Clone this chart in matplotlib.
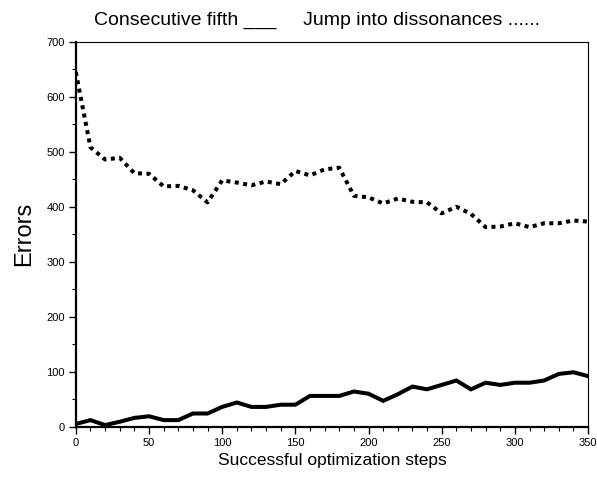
import matplotlib
matplotlib.use("Agg")
import matplotlib.pyplot as plt
from matplotlib.ticker import MultipleLocator

plt.rcParams["font.family"] = ["Liberation Sans", "DejaVu Sans"]

steps = list(range(0, 351, 10))
fifths = [5, 12, 3, 9, 16, 19, 12, 12, 24, 24, 36, 44, 36, 36, 40, 40, 56, 56, 56, 64,
          60, 47, 59, 73, 68, 76, 84, 68, 80, 76, 80, 80, 84, 96, 99, 92]
dissonances = [645, 508, 486, 489, 461, 460, 437, 438, 430, 408, 448, 444, 439, 446, 441, 465,
               457, 468, 471, 420, 417, 406, 415, 409, 408, 388, 400, 387, 363, 364, 370, 363,
               370, 370, 375, 373]

fig = plt.figure(figsize=(5.97, 4.86), dpi=100)
ax = fig.add_axes([0.127, 0.122, 0.858, 0.792])

ax.plot(steps, fifths, color="black", lw=2.9, solid_joinstyle="miter")
ax.plot(steps, dissonances, color="black", lw=2.9, linestyle=(0, (1, 1.1)),
        dash_capstyle="butt")

ax.set_xlim(0, 350)
ax.set_ylim(0, 700)
ax.xaxis.set_major_locator(MultipleLocator(50))
ax.xaxis.set_minor_locator(MultipleLocator(10))
ax.yaxis.set_major_locator(MultipleLocator(100))
ax.yaxis.set_minor_locator(MultipleLocator(50))

for side in ("left", "bottom"):
    ax.spines[side].set_linewidth(1.6)
for side in ("top", "right"):
    ax.spines[side].set_linewidth(0.8)

ax.tick_params(which="major", direction="out", length=5, width=1.0, labelsize=8, pad=3)
ax.tick_params(which="minor", direction="out", length=3, width=0.8)

ax.set_xlabel("Successful optimization steps", fontsize=12.5, labelpad=4)
ax.set_ylabel("Errors", fontsize=17, labelpad=8)

fig.text(0.531, 0.957, "Consecutive fifth ___     Jump into dissonances ......",
         ha="center", va="center", fontsize=14)

fig.savefig("out.png", dpi=100)
